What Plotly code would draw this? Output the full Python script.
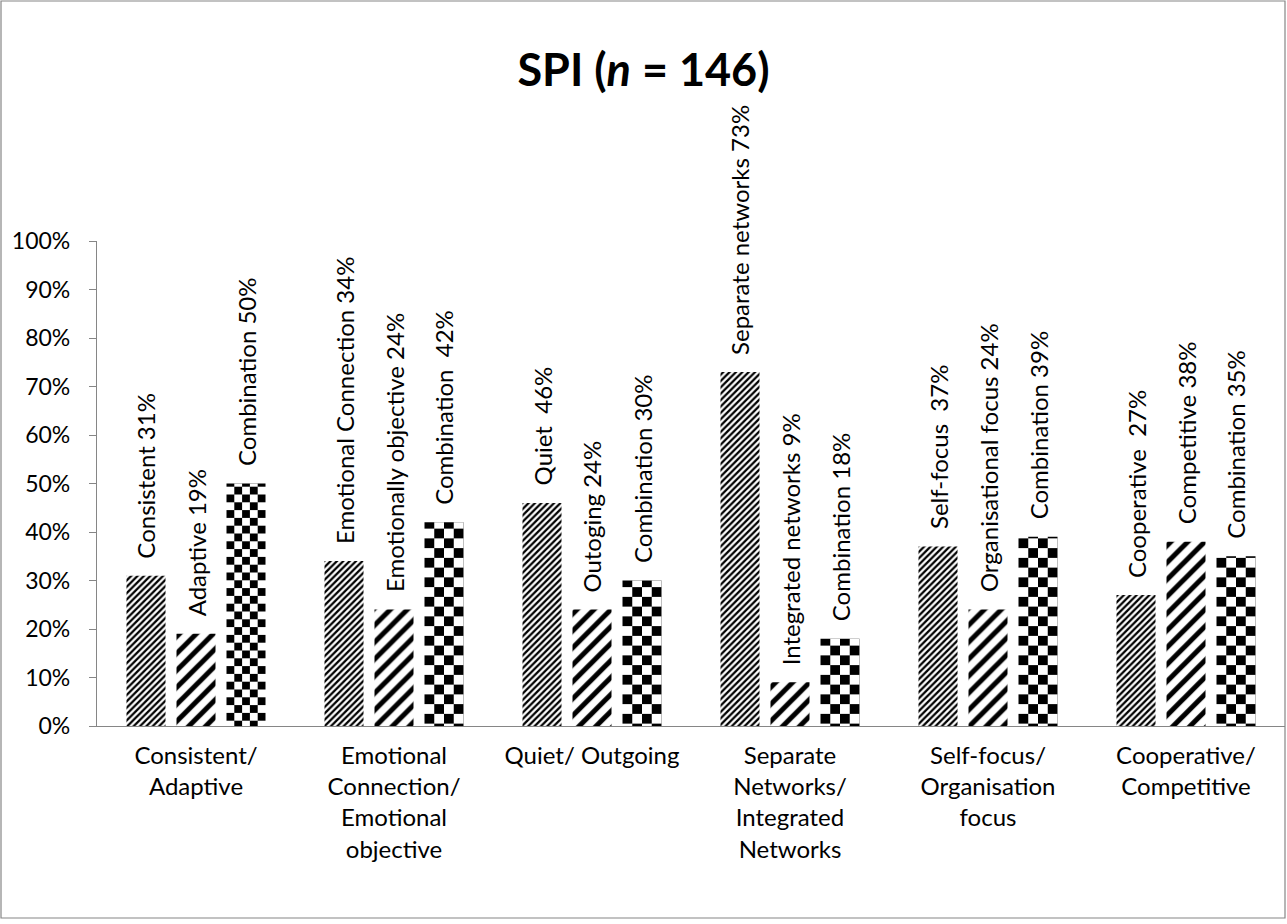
import plotly.graph_objects as go

# ---- data -------------------------------------------------------------
categories = [
    "Consistent/<br>Adaptive",
    "Emotional<br>Connection/<br>Emotional<br>objective",
    "Quiet/ Outgoing",
    "Separate<br>Networks/<br>Integrated<br>Networks",
    "Self-focus/<br>Organisation<br>focus",
    "Cooperative/<br>Competitive",
]

first_names = ["Consistent", "Emotional Connection", "Quiet ", "Separate networks",
               "Self-focus ", "Cooperative "]
first_pct = [31, 34, 46, 73, 37, 27]

second_names = ["Adaptive", "Emotionally objective", "Outoging", "Integrated networks",
                "Organisational focus", "Competitive"]
second_pct = [19, 24, 24, 9, 24, 38]

combo_names = ["Combination", "Combination ", "Combination", "Combination",
               "Combination", "Combination"]
combo_pct = [50, 42, 30, 18, 39, 35]

y_ticks = [0, 10, 20, 30, 40, 50, 60, 70, 80, 90, 100]

# ---- geometry / style -------------------------------------------------
W, H = 1287, 924
ML, MR, MT, MB = 97, 2, 241, 198
N = len(categories)
PX_PER_UNIT = (W - ML - MR) / N
BAR_W = 39 / PX_PER_UNIT          # bar width in category units
STEP = 50 / PX_PER_UNIT           # distance between bar centres in a group
checker_cols = [5, 4, 4, 4, 4, 4]  # squares across each Combination bar

FONT = "Lato"
AXIS_GREY = "#868686"
LABEL_SIZE = 24

xs = list(range(N))


def label(name, v):
    return f"{name} {v}%".replace("  ", " \u00a0")


fig = go.Figure()

# fine upward diagonal hatch
fig.add_trace(go.Bar(
    x=xs, y=first_pct, width=BAR_W, offset=-STEP - BAR_W / 2,
    marker=dict(color="black", opacity=1, line=dict(width=0),
                pattern=dict(shape="/", fgcolor="black", bgcolor="white",
                             fgopacity=1, size=4.5, solidity=0.5)),
    hoverinfo="skip",
))

# wide upward diagonal hatch
fig.add_trace(go.Bar(
    x=xs, y=second_pct, width=BAR_W, offset=-BAR_W / 2,
    marker=dict(color="black", opacity=1, line=dict(width=0),
                pattern=dict(shape="/", fgcolor="black", bgcolor="white",
                             fgopacity=1, size=12, solidity=0.42)),
    hoverinfo="skip",
))

# checkerboard: horizontal stripes, with every other column inverted
sq_px = [BAR_W * PX_PER_UNIT / c for c in checker_cols]
fig.add_trace(go.Bar(
    x=xs, y=combo_pct, width=BAR_W, offset=STEP - BAR_W / 2,
    marker=dict(color="black", opacity=1, line=dict(width=0),
                pattern=dict(shape="-", fgcolor="black", bgcolor="white",
                             fgopacity=1, size=[2 * s for s in sq_px], solidity=0.5)),
    hoverinfo="skip",
))
for j in range(1, max(checker_cols), 2):
    ys, offs, wds = [], [], []
    for i in range(N):
        cw = BAR_W / checker_cols[i]
        ys.append(combo_pct[i] if j < checker_cols[i] else None)
        offs.append(STEP - BAR_W / 2 + j * cw)
        wds.append(cw)
    fig.add_trace(go.Bar(
        x=xs, y=ys, width=wds, offset=offs,
        marker=dict(color="black", opacity=1, line=dict(width=0),
                    pattern=dict(shape="-", fgcolor="white", bgcolor="black",
                                 fgopacity=1, size=[2 * s for s in sq_px], solidity=0.5)),
        hoverinfo="skip",
    ))

# vertical value labels above each bar
annotations = []
for k, (names, vals) in enumerate([(first_names, first_pct),
                                    (second_names, second_pct),
                                    (combo_names, combo_pct)]):
    for i in range(N):
        annotations.append(dict(
            x=i + (k - 1) * STEP, y=vals[i], xref="x", yref="y",
            text=label(names[i], vals[i]), showarrow=False, textangle=-90,
            xanchor="center", yanchor="bottom", yshift=15,
            font=dict(family=FONT, size=LABEL_SIZE, color="black"),
        ))

# chart-area frame
y_top = 1 + (MT - 1) / (H - MT - MB)
y_bot = -(MB - (H - 918)) / (H - MT - MB)
shapes = [dict(type="rect", xref="paper", yref="paper",
               x0=-(ML - 1) / (W - ML - MR), x1=1.0, y0=y_bot, y1=y_top,
               line=dict(color=AXIS_GREY, width=1.2), fillcolor="rgba(0,0,0,0)",
               layer="above")]

fig.update_layout(
    width=W, height=H,
    margin=dict(l=ML, r=MR, t=MT, b=MB, autoexpand=False),
    paper_bgcolor="white", plot_bgcolor="white",
    barmode="overlay", showlegend=False,
    title=dict(text="SPI (<i>n</i> = 146)", x=0.5, xref="container", xanchor="center",
               y=1 - 70 / H, yref="container", yanchor="middle",
               font=dict(family=FONT, size=45, color="black", weight="bold")),
    font=dict(family=FONT, color="black"),
    annotations=annotations, shapes=shapes,
)

fig.update_xaxes(
    range=[-0.5, N - 0.5], tickmode="array", tickvals=xs, ticktext=categories,
    showline=True, linecolor=AXIS_GREY, linewidth=1.2, ticks="", showgrid=False,
    zeroline=False, tickfont=dict(family=FONT, size=24, color="black"),
    ticklabelstandoff=8, automargin=False, fixedrange=True,
)
fig.update_yaxes(
    range=[0, 100], tickmode="array", tickvals=y_ticks,
    ticktext=[f"{v}%" for v in y_ticks],
    showline=True, linecolor=AXIS_GREY, linewidth=1.2, ticks="outside", ticklen=7,
    tickcolor=AXIS_GREY, showgrid=False, zeroline=False,
    tickfont=dict(family=FONT, size=23, color="black"),
    ticklabelstandoff=14, automargin=False, fixedrange=True,
)

fig.write_html("out.html", config={"displayModeBar": False})
